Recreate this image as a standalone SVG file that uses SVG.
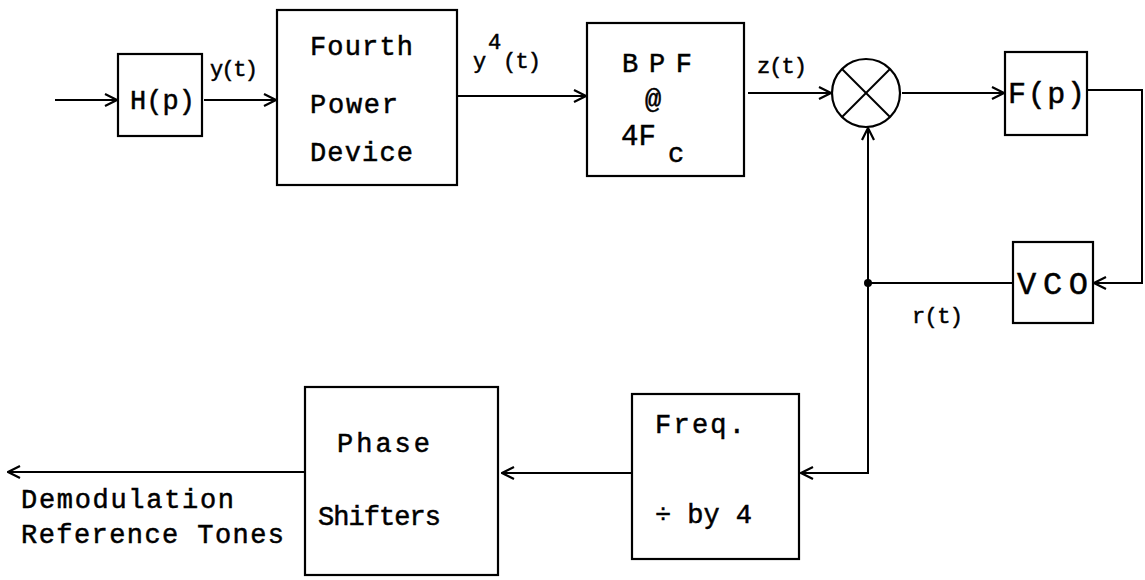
<svg xmlns="http://www.w3.org/2000/svg" width="1145" height="580" viewBox="0 0 1145 580">
<style>
.box{fill:none;stroke:#000;stroke-width:2.2}
.ln{fill:none;stroke:#000;stroke-width:2}
text{font-family:"Liberation Mono","Courier New",monospace;fill:#000;stroke:#000;stroke-width:0.5}
</style>
<defs>
<marker id="arr" viewBox="0 0 14 14" refX="13" refY="7" markerWidth="14" markerHeight="14" markerUnits="userSpaceOnUse" orient="auto">
<path d="M1,1 L13,7 L1,13" fill="none" stroke="#000" stroke-width="2.2"/>
</marker>
</defs>
<rect width="1145" height="580" fill="#fff"/>
<g id="connectors">
<line class="ln" x1="55" y1="100" x2="117" y2="100" marker-end="url(#arr)"/>
<line class="ln" x1="204" y1="100" x2="276" y2="100" marker-end="url(#arr)"/>
<line class="ln" x1="458" y1="96" x2="586" y2="96" marker-end="url(#arr)"/>
<line class="ln" x1="748" y1="93" x2="831" y2="93" marker-end="url(#arr)"/>
<line class="ln" x1="902" y1="93" x2="1004" y2="93" marker-end="url(#arr)"/>
<polyline class="ln" points="1088,90 1142,90 1142,283 1094,283" marker-end="url(#arr)"/>
<line class="ln" x1="1013" y1="283" x2="868" y2="283"/>
<line class="ln" x1="868" y1="283" x2="868" y2="128" marker-end="url(#arr)"/>
<polyline class="ln" points="868,283 868,473 801,473" marker-end="url(#arr)"/>
<line class="ln" x1="632" y1="473" x2="502" y2="473" marker-end="url(#arr)"/>
<line class="ln" x1="305" y1="472" x2="8" y2="472" marker-end="url(#arr)"/>
<circle cx="868" cy="283" r="4" fill="#000"/>
<text x="210" y="76" font-size="22" textLength="48">y(t)</text>
<text x="473" y="68" font-size="22">y</text>
<text x="488" y="49" font-size="22">4</text>
<text x="503" y="68" font-size="22" textLength="38">(t)</text>
<text x="757" y="73" font-size="22" textLength="50">z(t)</text>
<text x="912" y="323" font-size="22" textLength="51">r(t)</text>
<text x="21" y="508" font-size="27" textLength="213">Demodulation</text>
<text x="21" y="543" font-size="27" textLength="263">Reference Tones</text>
</g>
<g id="hp">
<rect class="box" x="118" y="54" width="84" height="82"/>
<text x="130" y="109" font-size="27" textLength="65">H(p)</text>
</g>
<g id="fourth">
<rect class="box" x="277" y="10" width="180" height="175"/>
<text x="310" y="55" font-size="27" textLength="103">Fourth</text>
<text x="310" y="113" font-size="27" textLength="88">Power</text>
<text x="310" y="161" font-size="27" textLength="103">Device</text>
</g>
<g id="bpf">
<rect class="box" x="587" y="23" width="157" height="153"/>
<text x="622" y="72" font-size="27" textLength="70">BPF</text>
<text x="645" y="108" font-size="27">@</text>
<text x="621" y="145" font-size="29">4F</text>
<text x="668" y="162" font-size="27">c</text>
</g>
<g id="mixer">
<circle class="box" cx="866" cy="93" r="34"/>
<line class="ln" x1="842" y1="69" x2="890" y2="117"/>
<line class="ln" x1="890" y1="69" x2="842" y2="117"/>
</g>
<g id="fp">
<rect class="box" x="1005" y="52" width="82" height="83"/>
<text x="1008" y="103" font-size="30" textLength="77">F(p)</text>
</g>
<g id="vco">
<rect class="box" x="1013" y="242" width="80" height="81"/>
<text x="1017" y="294" font-size="32" textLength="71">VCO</text>
</g>
<g id="freq">
<rect class="box" x="632" y="394" width="167" height="165"/>
<text x="655" y="433" font-size="27" textLength="90">Freq.</text>
<text x="655" y="523" font-size="27" textLength="97">÷ by 4</text>
</g>
<g id="phase">
<rect class="box" x="305" y="387" width="193" height="188"/>
<text x="337" y="452" font-size="27" textLength="93">Phase</text>
<text x="318" y="525" font-size="27" textLength="123">Shifters</text>
</g>
</svg>
